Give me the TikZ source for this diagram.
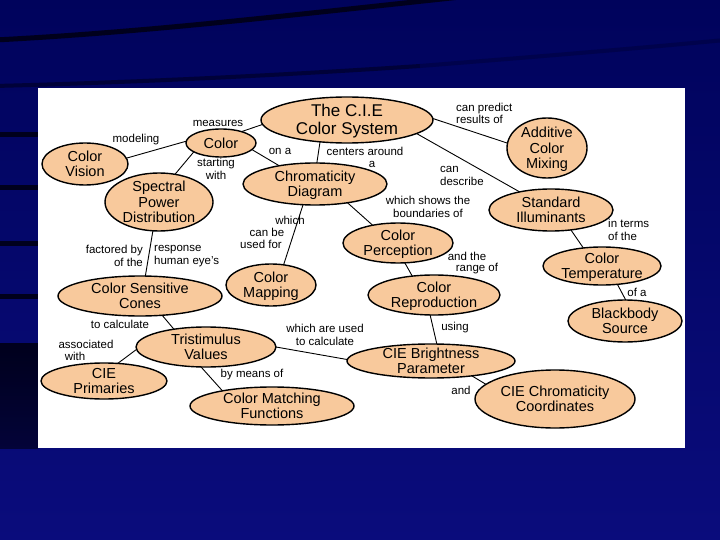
\documentclass[tikz,border=0pt]{standalone}
\usepackage{fontspec}
\setmainfont{Liberation Sans}
\usetikzlibrary{shapes.geometric}
\definecolor{peach}{RGB}{248,201,156}
\definecolor{navytop}{RGB}{0,3,92}
\definecolor{navybot}{RGB}{10,12,124}
\definecolor{stripe}{RGB}{0,0,28}
\newcommand{\ctext}[1]{\makebox[0pt]{\raisebox{-0.38em}[0pt][0pt]{\begin{tabular}{@{}c@{}}#1\end{tabular}}}}
\begin{document}
\begin{tikzpicture}[x=1pt,y=-1pt,
  concept/.style={ellipse,draw=black,line width=1.4pt,fill=peach,inner sep=0pt,outer sep=0pt,font=\fontsize{14.5}{15.5}\selectfont},
  lbl/.style={inner sep=0pt,font=\fontsize{11.5}{12.5}\selectfont,text=black},
  link/.style={line width=0.9pt,black},
  stripeline/.style={stripe,line width=5pt}]
\useasboundingbox (0,0) rectangle (720,540);
% background
\shade[top color=navytop,bottom color=navybot] (0,0) rectangle (720,540);
\draw[stripeline] (-5,40) .. controls (150,32) and (300,14) .. (470,-4);
\draw[stripe!55!navytop,line width=4pt] (-5,86) .. controls (150,82) and (300,74) .. (420,66);
\draw[stripe!25!navytop,line width=4pt] (420,66) .. controls (520,58) and (620,50) .. (725,40);
\shade[top color=stripe,bottom color=stripe!70!navybot] (0,343) rectangle (38,448);
\foreach \yy in {135,188,243,296} \draw[stripeline] (0,\yy) -- (38,\yy);
\fill[white] (38,88) rectangle (685,448);

% concepts
\node[concept,minimum width=172,minimum height=46,font=\fontsize{17}{18}\selectfont] (cie) at (347,120) {\ctext{The C.I.E\\Color System}};
\node[concept,minimum width=70,minimum height=28] (color) at (221,143) {\ctext{Color}};
\node[concept,minimum width=86,minimum height=42] (vision) at (85,164) {\ctext{Color\\Vision}};
\node[concept,minimum width=108,minimum height=58] (spd) at (159,202) {\ctext{Spectral\\Power\\Distribution}};
\node[concept,minimum width=144,minimum height=42] (chrom) at (315,184) {\ctext{Chromaticity\\Diagram}};
\node[concept,minimum width=80,minimum height=60] (add) at (547,148) {\ctext{Additive\\Color\\Mixing}};
\node[concept,minimum width=124,minimum height=42] (std) at (551,210) {\ctext{Standard\\Illuminants}};
\node[concept,minimum width=110,minimum height=40] (perc) at (398,243) {\ctext{Color\\Perception}};
\node[concept,minimum width=90,minimum height=42] (map) at (271,285) {\ctext{Color\\Mapping}};
\node[concept,minimum width=132,minimum height=40] (repro) at (434,295) {\ctext{Color\\Reproduction}};
\node[concept,minimum width=118,minimum height=38] (temp) at (602,266) {\ctext{Color\\Temperature}};
\node[concept,minimum width=114,minimum height=42] (black) at (625,321) {\ctext{Blackbody\\Source}};
\node[concept,minimum width=164,minimum height=40] (cones) at (140,296) {\ctext{Color Sensitive\\Cones}};
\node[concept,minimum width=140,minimum height=40] (tri) at (206,347) {\ctext{Tristimulus\\Values}};
\node[concept,minimum width=126,minimum height=36] (prim) at (104,381) {\ctext{CIE\\Primaries}};
\node[concept,minimum width=164,minimum height=38] (cmf) at (272,406) {\ctext{Color Matching\\Functions}};
\node[concept,minimum width=168,minimum height=34] (bright) at (431,361) {\ctext{CIE Brightness\\Parameter}};
\node[concept,minimum width=160,minimum height=58] (coord) at (555,399) {\ctext{CIE Chromaticity\\Coordinates}};

% connectors
\draw[link] (cie.183) -- (color.29);
\draw[link] (color.177) -- (vision.8);
\draw[link] (color.198) -- (spd.60);
\draw[link] (color.348) -- (chrom.153);
\draw[link] (cie.219) -- (chrom.85);
\draw[link] (cie.1) -- (add.173);
\draw[link] (cie.349) -- (std.150);
\draw[link] (chrom.330) -- (perc.145);
\draw[link] (chrom.240) -- (map.58);
\draw[link] (perc.289) -- (repro.139);
\draw[link] (std.315) -- (temp.136);
\draw[link] (temp.310) -- (black.88);
\draw[link] (spd.258) -- (cones.75);
\draw[link] (cones.319) -- (tri.151);
\draw[link] (tri.182) -- (prim.52);
\draw[link] (tri.256) -- (cmf.163);
\draw[link] (tri.0) -- (bright.179);
\draw[link] (repro.259) -- (bright.71);
\draw[link] (bright.340) -- (coord.168);

% labels
\node[lbl] (l1) at (218,123) {measures};
\node[lbl] (l2) at (136,140) {modeling};
\node[lbl,align=center] (l3) at (216,169) {starting\\with};
\node[lbl] (l4) at (280,151) {on a};
\node[lbl] (l5a) at (365,151) {centers around};
\node[lbl] (l5b) at (372,164) {a};
\node[lbl,anchor=west,align=left] (l6) at (456,113.5) {can predict\\results of};
\node[lbl,anchor=west,align=left] (l7) at (440,176) {can\\describe};
\node[lbl,align=center] (l8) at (428,207) {which shows the\\boundaries of};
\node[lbl] (l9a) at (290,220) {which};
\node[lbl] (l9b) at (267,232) {can be};
\node[lbl] (l9c) at (261,244) {used for};
\node[lbl] (l10a) at (467,256) {and the};
\node[lbl] (l10b) at (477,269) {range of};
\node[lbl,anchor=west,align=left] (l11) at (608,230) {in terms\\of the};
\node[lbl] (l12) at (637,292) {of a};
\node[lbl,anchor=east,align=right] (l13) at (143,256) {factored by\\of the};
\node[lbl,anchor=west,align=left] (l14) at (154,256) {response\\human eye's};
\node[lbl] (l15) at (120,324) {to calculate};
\node[lbl] (l16a) at (86,344) {associated};
\node[lbl] (l16b) at (75,356) {with};
\node[lbl] (l17) at (252,375) {by means of};
\node[lbl,align=center] (l18) at (325,335) {which are used\\to calculate};
\node[lbl] (l19) at (455,328) {using};
\node[lbl] (l20) at (461,390) {and};
\end{tikzpicture}
\end{document}
